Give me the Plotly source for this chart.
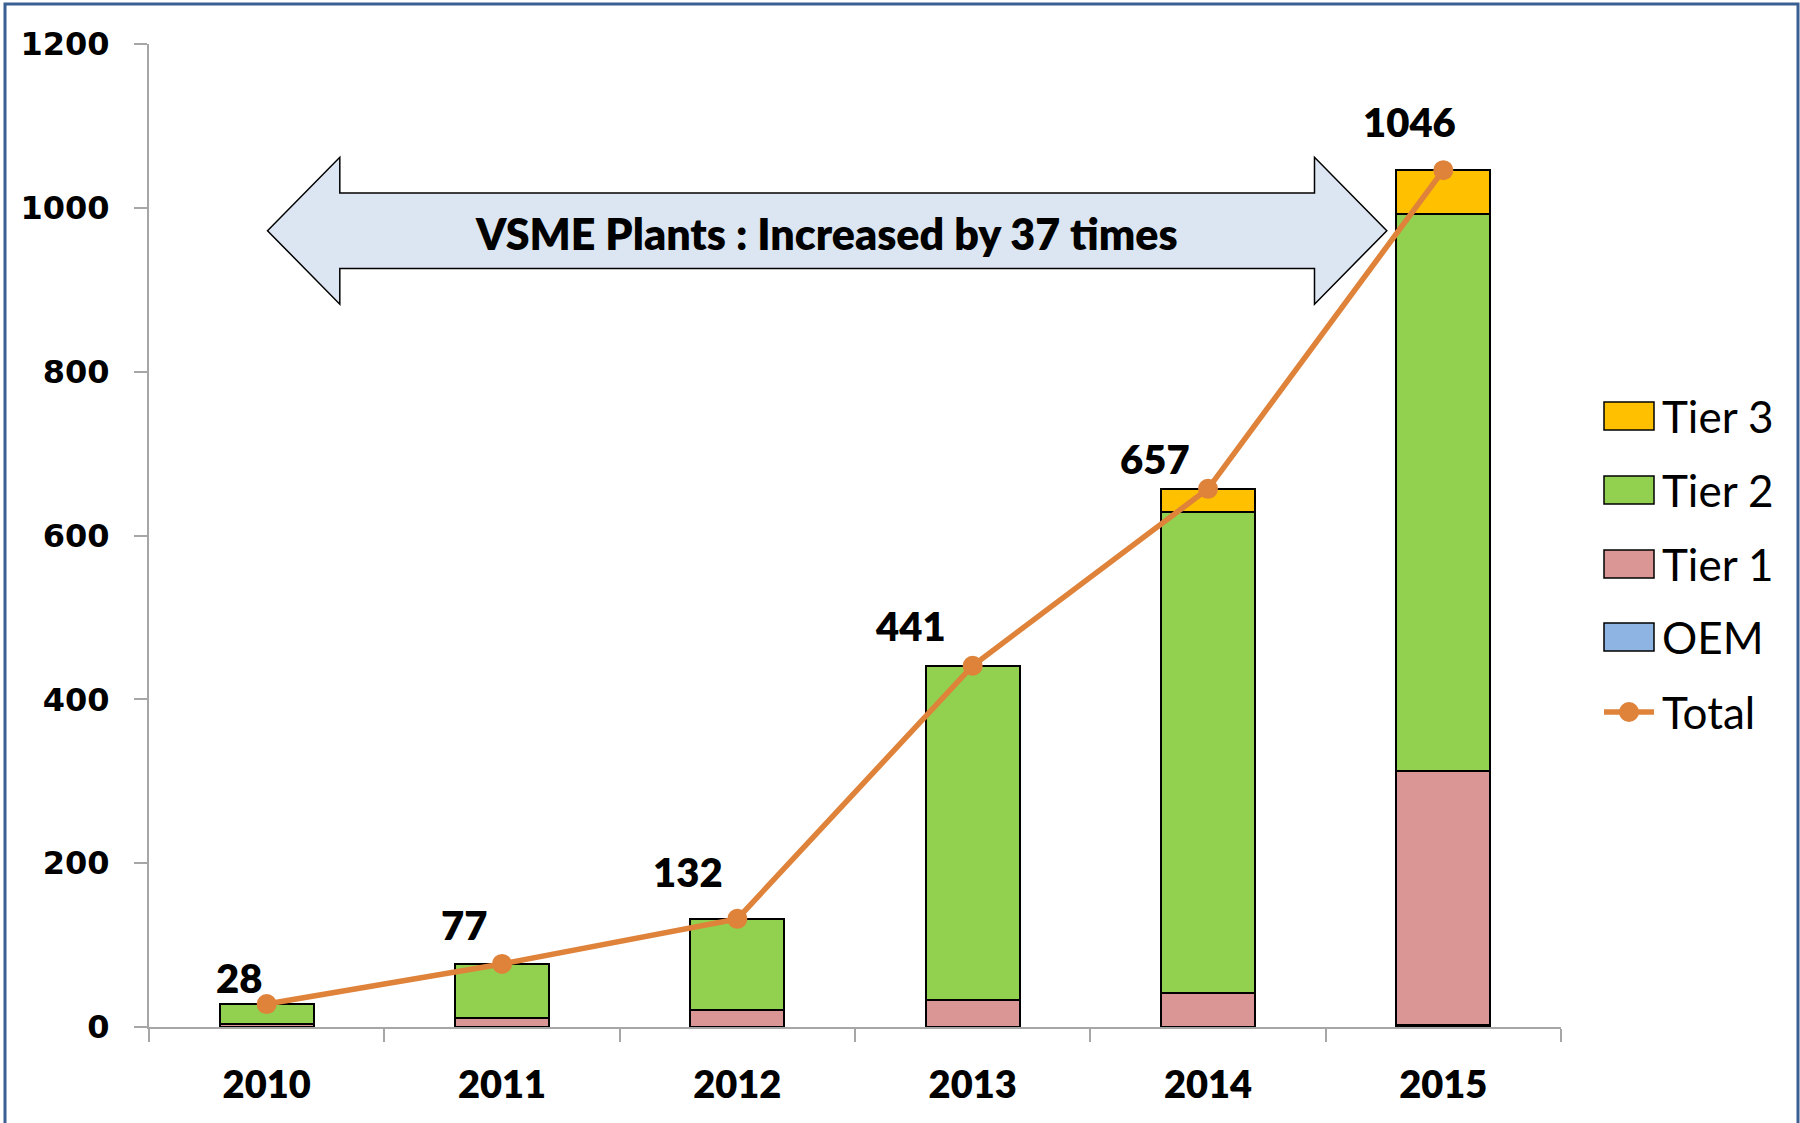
import plotly.graph_objects as go

# ---------------- data ----------------
years = ["2010", "2011", "2012", "2013", "2014", "2015"]
oem = [0, 0, 0, 0, 0, 3]
tier1 = [4, 11, 21, 33, 42, 310]
tier2 = [24, 66, 111, 408, 587, 680]
tier3 = [0, 0, 0, 0, 28, 53]
total = [28, 77, 132, 441, 657, 1046]
y_ticks = [0, 200, 400, 600, 800, 1000, 1200]
arrow_text = "VSME Plants : Increased by 37 times"

# ---------------- styles ----------------
W, H = 1800, 1123
ML, MR, MT, MB = 149, 239, 44, 96
PW, PH = W - ML - MR, H - MT - MB

def px(x):  # pixel x -> paper x
    return (x - ML) / PW

def py(y):  # pixel y -> paper y
    return (H - MB - y) / PH

c_oem, c_t1, c_t2, c_t3 = "#8DB4E2", "#DA9694", "#92D050", "#FFC000"
c_tot = "#DF823A"
axis_grey = "#A6A6A6"
HEAVY = 800

fig = go.Figure()
series = [("OEM", oem, c_oem), ("Tier 1", tier1, c_t1), ("Tier 2", tier2, c_t2), ("Tier 3", tier3, c_t3)]
for name, vals, col in series:
    fig.add_trace(go.Bar(x=years, y=vals, name=name, marker=dict(color=col, line=dict(color="black", width=2)),
                         showlegend=False))
fig.add_trace(go.Scatter(x=years, y=total, name="Total", mode="lines+markers",
                         line=dict(color=c_tot, width=5.5), marker=dict(color=c_tot, size=20),
                         showlegend=False))

# total labels (x given as category index)
label_shift = [(-28, 26), (-38, 39), (-49, 47), (-62, 40), (-53, 30), (-34, 48)]
for i, (t, (dx, dy)) in enumerate(zip(total, label_shift)):
    fig.add_annotation(x=i, y=t, xref="x", yref="y", text=str(t), showarrow=False,
                       xshift=dx, yshift=dy, xanchor="center", yanchor="middle",
                       font=dict(family="Lato", size=40, color="black", weight=HEAVY))

shapes = []
# double-headed block arrow (pixel geometry -> paper)
tipL, innL, innR, tipR = 267.5, 339.8, 1314.5, 1386.8
ymid, htop, hbot, btop, bbot = 230.7, 157.3, 304.2, 192.9, 268.6
pts = [(tipL, ymid), (innL, htop), (innL, btop), (innR, btop), (innR, htop), (tipR, ymid),
       (innR, hbot), (innR, bbot), (innL, bbot), (innL, hbot)]
path = "M " + " L ".join(f"{px(a):.5f},{py(b):.5f}" for a, b in pts) + " Z"
shapes.append(dict(type="path", path=path, xref="paper", yref="paper",
                   fillcolor="#DCE6F2", line=dict(color="black", width=1.5), layer="below"))
fig.add_annotation(x=px(826), y=py(233), xref="paper", yref="paper", text=arrow_text,
                   showarrow=False, xanchor="center", yanchor="middle",
                   font=dict(family="Lato", size=43, color="black", weight=HEAVY))

# outer frame
shapes.append(dict(type="rect", xref="paper", yref="paper", x0=px(5), x1=px(1798), y0=py(1130), y1=py(4),
                   line=dict(color="#3A5F93", width=3), fillcolor="rgba(0,0,0,0)", layer="above"))

# custom legend
leg_items = [("Tier 3", c_t3), ("Tier 2", c_t2), ("Tier 1", c_t1), ("OEM", c_oem)]
leg_y = [416, 490, 564, 637]
for (name, col), yy in zip(leg_items, leg_y):
    shapes.append(dict(type="rect", xref="paper", yref="paper", x0=px(1604), x1=px(1654),
                       y0=py(yy + 14), y1=py(yy - 14), fillcolor=col, line=dict(color="black", width=1.5)))
    fig.add_annotation(x=px(1660), y=py(yy), xref="paper", yref="paper", text=name, showarrow=False,
                       xanchor="left", yanchor="middle", font=dict(family="Lato", size=44, color="black"))
shapes.append(dict(type="line", xref="paper", yref="paper", x0=px(1604), x1=px(1654), y0=py(712), y1=py(712),
                   line=dict(color=c_tot, width=5.5)))
shapes.append(dict(type="circle", xref="paper", yref="paper", x0=px(1619), x1=px(1639), y0=py(722), y1=py(702),
                   fillcolor=c_tot, line=dict(color=c_tot, width=0)))
fig.add_annotation(x=px(1660), y=py(712), xref="paper", yref="paper", text="Total", showarrow=False,
                   xanchor="left", yanchor="middle", font=dict(family="Lato", size=44, color="black"))

fig.update_layout(
    width=W, height=H, margin=dict(l=ML, r=MR, t=MT, b=MB),
    barmode="stack", bargap=0.6,
    plot_bgcolor="white", paper_bgcolor="white",
    shapes=shapes,
    xaxis=dict(type="category", tickson="boundaries", ticks="outside", ticklen=13, tickcolor=axis_grey,
               tickwidth=2, showline=True, linecolor=axis_grey, linewidth=2, showgrid=False,
               tickfont=dict(family="Lato", size=38, color="black", weight=HEAVY),
               ticklabelstandoff=23, range=[-0.5, 5.5]),
    yaxis=dict(range=[0, 1200], tickvals=y_ticks, ticks="outside", ticklen=13, tickcolor=axis_grey,
               tickwidth=2, showline=True, linecolor=axis_grey, linewidth=2, showgrid=False, zeroline=False,
               tickfont=dict(family="DejaVu Sans", size=32, color="black", weight="bold"),
               ticklabelstandoff=18),
)

fig.write_html("out.html", config={"displayModeBar": False},
               post_script="document.body.style.margin='0';")
